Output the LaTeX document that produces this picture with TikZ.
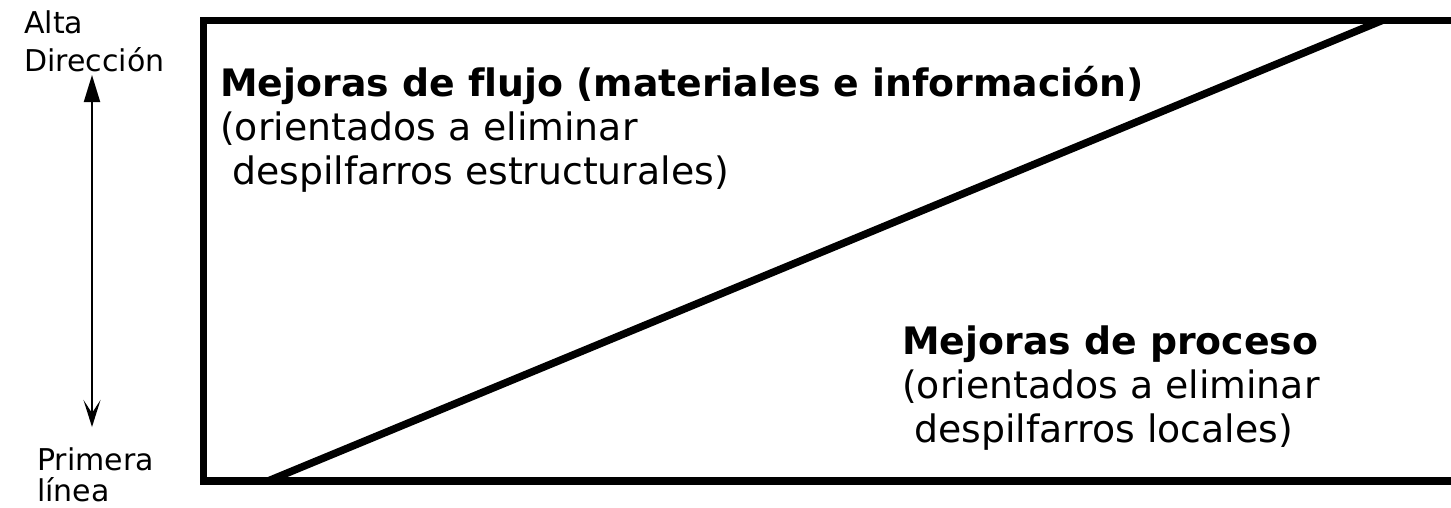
\documentclass[tikz,border=0pt]{standalone}
\usepackage{fontspec}
\setmainfont[Ligatures=NoCommon]{DejaVu Sans}
\usetikzlibrary{arrows.meta}
\begin{document}
\begin{tikzpicture}[x=1pt,y=-1pt,
  frame/.style={line width=7.5pt, line join=miter},
  maintext/.style={font=\fontsize{37.8}{44}\selectfont, inner sep=0pt, anchor=base west},
  boldtext/.style={font=\fontsize{37.8}{44}\selectfont\bfseries, inner sep=0pt, anchor=base west},
  sidelabel/.style={font=\fontsize{30}{36}\selectfont, inner sep=0pt, anchor=base west},
  axis/.style={line width=2pt, {Triangle[length=27pt,width=16pt]}-{Stealth[length=27pt,width=17pt,inset=13pt]}}
  ]
\useasboundingbox (0,0) rectangle (1451,507);
\clip (0,0) rectangle (1451,507);
% frame
\coordinate (tl) at (203.5,20.5);
\coordinate (bl) at (203.5,481);
\coordinate (tr) at (1475,20.5);
\coordinate (br) at (1475,481);
\draw[frame] (tl) -- (tr) -- (br) -- (bl) -- cycle;
% diagonal
\coordinate (dstart) at (268,481);
\coordinate (dend) at (1382,20.5);
\draw[frame] (dstart) -- (dend);
% side labels
\node[sidelabel] (alta) at (24,33) {Alta};
\node[sidelabel] (dir) at (24,71) {Dirección};
\node[sidelabel] (prim) at (37,470) {Primera};
\node[sidelabel] (linea) at (37,501) {línea};
\coordinate (atop) at (92,75);
\coordinate (abot) at (92,427);
\draw[axis] (atop) -- (abot);
% upper-left block
\node[boldtext] (flujo) at (220,96) {Mejoras de flujo (materiales e información)};
\node[maintext] (flujo2) at (220,140) {(orientados a eliminar};
\node[maintext] (flujo3) at (220,184) {\ despilfarros estructurales)};
% lower-right block
\node[boldtext] (proc) at (902,354) {Mejoras de proceso};
\node[maintext] (proc2) at (902,398) {(orientados a eliminar};
\node[maintext] (proc3) at (902,442) {\ despilfarros locales)};
\end{tikzpicture}
\end{document}
